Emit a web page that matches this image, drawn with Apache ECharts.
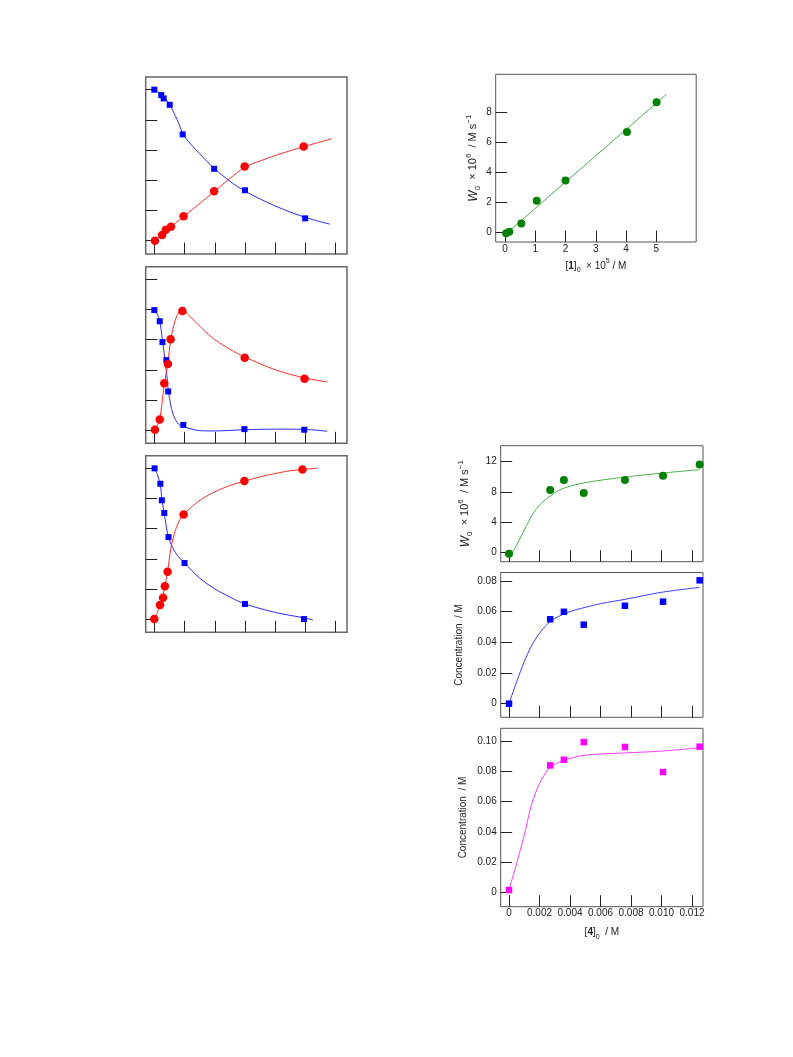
<!DOCTYPE html>
<html><head><meta charset="utf-8">
<script src="https://cdn.jsdelivr.net/npm/echarts@6/dist/echarts.min.js"></script>
<style>html,body{margin:0;padding:0;background:#fff}#c{width:793px;height:1057px}</style>
</head><body><div id="c"></div><script>
// ---------- Left panels (no tick labels) ----------
const L_xTicks = [0, 1, 2, 3, 4, 5, 6];
const L_yTicks = [0, 1, 2, 3, 4, 5];

// Panel L1
const L1_blueX = [0, 0.23, 0.31, 0.51, 0.94, 1.98, 3.0, 4.99];
const L1_blueY = [5.0, 4.82, 4.71, 4.50, 3.52, 2.38, 1.67, 0.74];
const L1_redX = [0.02, 0.26, 0.38, 0.55, 0.97, 1.98, 2.99, 4.94];
const L1_redY = [0, 0.19, 0.36, 0.46, 0.81, 1.64, 2.46, 3.12];
const L1_blueFitX = [0, 0.25, 0.5, 0.75, 1, 1.5, 2, 2.5, 3, 4, 5, 5.8];
const L1_blueFitY = [5.0, 4.83, 4.52, 4.02, 3.45, 2.88, 2.38, 1.97, 1.64, 1.15, 0.77, 0.55];
const L1_redFitX = [0, 0.25, 0.5, 1, 1.5, 2, 2.5, 3, 3.5, 4, 4.5, 5, 5.88];
const L1_redFitY = [0, 0.2, 0.42, 0.82, 1.23, 1.64, 2.06, 2.44, 2.64, 2.82, 2.98, 3.13, 3.38];

// Panel L2
const L2_blueX = [0, 0.18, 0.27, 0.40, 0.46, 0.96, 2.98, 4.96];
const L2_blueY = [3.98, 3.61, 2.92, 2.32, 1.28, 0.17, 0.03, 0.01];
const L2_redX = [0.02, 0.18, 0.33, 0.45, 0.54, 0.93, 2.99, 4.97];
const L2_redY = [0.01, 0.35, 1.55, 2.19, 3.01, 3.95, 2.40, 1.70];
const L2_blueFitX = [0, 0.1, 0.18, 0.25, 0.3, 0.4, 0.46, 0.55, 0.65, 0.8, 1.0, 1.5, 2, 3, 4, 5, 5.72];
const L2_blueFitY = [3.98, 3.85, 3.6, 3.15, 2.75, 1.95, 1.35, 0.8, 0.45, 0.2, 0.1, -0.02, -0.03, 0.01, 0.03, 0.02, -0.04];
const L2_redFitX = [0, 0.1, 0.18, 0.25, 0.33, 0.45, 0.54, 0.65, 0.75, 0.85, 0.95, 1.1, 1.3, 1.6, 2, 2.5, 3, 4, 5, 5.72];
const L2_redFitY = [0, 0.15, 0.38, 0.85, 1.5, 2.25, 2.95, 3.5, 3.8, 3.95, 3.97, 3.85, 3.65, 3.35, 3.0, 2.68, 2.42, 2.0, 1.72, 1.6];

// Panel L3
const L3_blueX = [0.01, 0.20, 0.25, 0.33, 0.47, 1.0, 3.0, 4.95];
const L3_blueY = [5.0, 4.49, 3.94, 3.52, 2.72, 1.86, 0.50, 0.0];
const L3_redX = [0, 0.19, 0.29, 0.35, 0.44, 0.97, 2.98, 4.9];
const L3_redY = [0, 0.47, 0.71, 1.09, 1.57, 3.47, 4.58, 4.96];
const L3_blueFitX = [0, 0.1, 0.2, 0.25, 0.33, 0.47, 0.7, 1.0, 1.5, 2, 2.5, 3, 4, 5, 5.25];
const L3_blueFitY = [5.02, 4.8, 4.45, 4.0, 3.5, 2.72, 2.2, 1.86, 1.36, 1.0, 0.73, 0.5, 0.22, 0.03, -0.03];
const L3_redFitX = [0, 0.1, 0.19, 0.3, 0.44, 0.55, 0.7, 0.85, 1.0, 1.3, 1.6, 2, 2.5, 3, 3.5, 4, 4.5, 5, 5.41];
const L3_redFitY = [0, 0.22, 0.47, 0.85, 1.57, 2.35, 2.95, 3.3, 3.5, 3.78, 4.0, 4.22, 4.43, 4.58, 4.72, 4.83, 4.92, 4.97, 5.01];

// ---------- Top-right panel ----------
const TR_xTicks = [0, 1, 2, 3, 4, 5];
const TR_xLabels = ['0', '1', '2', '3', '4', '5'];
const TR_yTicks = [0, 2, 4, 6, 8];
const TR_yLabels = ['0', '2', '4', '6', '8'];
const TR_x = [0.04, 0.14, 0.54, 1.05, 2.0, 4.03, 5.01];
const TR_y = [-0.07, 0.04, 0.58, 2.1, 3.44, 6.67, 8.65];
const TR_fitX = [0.02, 5.34];
const TR_fitY = [-0.12, 9.18];

// ---------- Bottom-right panels ----------
const BR_xTicks = [0, 0.002, 0.004, 0.006, 0.008, 0.010, 0.012];
const BR_xLabels = ['0', '0.002', '0.004', '0.006', '0.008', '0.010', '0.012'];
const BR_x = [0, 0.0027, 0.0036, 0.0049, 0.0076, 0.0101, 0.0125];

const R1_yTicks = [0, 4, 8, 12];
const R1_yLabels = ['0', '4', '8', '12'];
const R1_w0 = [-0.13, 8.25, 9.56, 7.85, 9.56, 10.09, 11.58];
const R1_fitX = [0.00015, 0.0005, 0.00116, 0.0018, 0.00247, 0.0035, 0.005, 0.0075, 0.01, 0.0125];
const R1_fitY = [-0.2, 1.0, 3.6, 5.8, 7.1, 8.4, 9.2, 9.9, 10.45, 10.9];

const R2_yTicks = [0, 0.02, 0.04, 0.06, 0.08];
const R2_yLabels = ['0', '0.02', '0.04', '0.06', '0.08'];
const R2_conc = [0, 0.055, 0.0599, 0.0515, 0.0638, 0.0665, 0.0804];
const R2_fitX = [0, 0.0005, 0.001, 0.0015, 0.002, 0.0025, 0.003, 0.004, 0.005, 0.006, 0.0076, 0.01, 0.0125];
const R2_fitY = [0, 0.0143, 0.0274, 0.0382, 0.0459, 0.0517, 0.0556, 0.06, 0.0628, 0.0652, 0.068, 0.0726, 0.0758];

const R3_yTicks = [0, 0.02, 0.04, 0.06, 0.08, 0.10];
const R3_yLabels = ['0', '0.02', '0.04', '0.06', '0.08', '0.10'];
const R3_conc = [0.0018, 0.0838, 0.0875, 0.0991, 0.0959, 0.0794, 0.0961];
const R3_fitX = [0, 0.0005, 0.001, 0.0015, 0.002, 0.0025, 0.00275, 0.0035, 0.005, 0.0076, 0.01, 0.0125];
const R3_fitY = [0.002, 0.0193, 0.038, 0.0588, 0.072, 0.0803, 0.083, 0.0868, 0.0905, 0.092, 0.0932, 0.0954];

// ---------- build ----------
const FONT = '"Liberation Sans", Arial, sans-serif';
const TXT = '#222';
const pairs = (xs, ys) => xs.map((x, i) => [x, ys[i]]);
const fmt = (ticks, labels) => (v) => { const i = ticks.findIndex(t => Math.abs(t - v) < 1e-9); return i >= 0 ? labels[i] : ''; };

const rich = {
  n: { fontSize: 10, fontFamily: FONT, color: TXT, lineHeight: 16 },
  w: { fontSize: 11, fontFamily: FONT, color: TXT, lineHeight: 17 },
  i: { fontSize: 12, fontFamily: FONT, color: TXT, fontStyle: 'italic', lineHeight: 17 },
  b: { fontSize: 10, fontFamily: FONT, color: TXT, fontWeight: 'bold', lineHeight: 16 },
  sup: { fontSize: 7, fontFamily: FONT, color: TXT, verticalAlign: 'top', lineHeight: 8 },
  sub: { fontSize: 7, fontFamily: FONT, color: TXT, verticalAlign: 'bottom', lineHeight: 8 },
  wsup: { fontSize: 8, fontFamily: FONT, color: TXT, verticalAlign: 'top', lineHeight: 9 },
  wsub: { fontSize: 8, fontFamily: FONT, color: TXT, verticalAlign: 'bottom', lineHeight: 9 }
};

const grids = [
  { left: 145.7, top: 77, width: 201.3, height: 177 },
  { left: 145.7, top: 266.7, width: 201.3, height: 176.6 },
  { left: 145.7, top: 455.7, width: 201.3, height: 176.6 },
  { left: 495.7, top: 74.3, width: 200.5, height: 167.7 },
  { left: 500.7, top: 445.7, width: 202.3, height: 116 },
  { left: 500.7, top: 572.5, width: 202.3, height: 144.8 },
  { left: 500.7, top: 728.3, width: 202.3, height: 178.4 }
].map((g, i) => Object.assign({ show: true, borderColor: i < 3 ? '#666' : '#555', borderWidth: i < 3 ? 1.5 : 1, backgroundColor: 'transparent', containLabel: false }, g));

function axis(gi, dim, min, max, ticks, labels, extra) {
  const a = {
    type: 'value', gridIndex: gi, min: min, max: max,
    position: dim === 'x' ? 'bottom' : 'left',
    axisLine: { show: false, onZero: false },
    splitLine: { show: false },
    axisTick: { show: true, inside: true, length: 11.5, customValues: ticks, lineStyle: { color: '#222', width: 1 } },
    axisLabel: labels ? { show: true, customValues: ticks, formatter: fmt(ticks, labels), fontFamily: FONT, fontSize: 10, color: TXT, margin: dim === 'x' ? 2 : 4 } : { show: false }
  };
  return Object.assign(a, extra || {});
}

const LXmin = -0.284, LXmax = 6.374, LYmin = -0.44, LYmax = 5.42;
const BRxMin = -0.000544, BRxMax = 0.01272;

const xAxes = [
  axis(0, 'x', LXmin, LXmax, L_xTicks, null),
  axis(1, 'x', LXmin, LXmax, L_xTicks, null),
  axis(2, 'x', LXmin, LXmax, L_xTicks, null),
  axis(3, 'x', -0.307, 6.32, TR_xTicks, TR_xLabels, {
    name: '{n|[}{b|1}{n|]}{sub|0}{n|  × 10}{sup|5}{n| / M}', nameLocation: 'middle', nameGap: 16,
    nameTextStyle: { rich: rich }
  }),
  axis(4, 'x', BRxMin, BRxMax, BR_xTicks, null),
  axis(5, 'x', BRxMin, BRxMax, BR_xTicks, null),
  axis(6, 'x', BRxMin, BRxMax, BR_xTicks, BR_xLabels, {
    name: '{n|[}{b|4}{n|]}{sub|0}{n|  / M}', nameLocation: 'middle', nameGap: 18,
    nameTextStyle: { rich: rich }
  })
];

const wName = '{i|W}{wsub|0}{w|  × 10}{wsup|6}{w|  / M s}{wsup|−1}';
const yAxes = [
  axis(0, 'y', LYmin, LYmax, L_yTicks, null),
  axis(1, 'y', LYmin, LYmax, L_yTicks, null),
  axis(2, 'y', LYmin, LYmax, L_yTicks, null),
  axis(3, 'y', -0.645, 10.51, TR_yTicks, TR_yLabels, {
    name: wName, nameLocation: 'middle', nameGap: 14, nameRotate: 90, nameTextStyle: { rich: rich }
  }),
  axis(4, 'y', -1.18, 14.05, R1_yTicks, R1_yLabels, {
    name: wName, nameLocation: 'middle', nameGap: 27, nameRotate: 90, nameTextStyle: { rich: rich }
  }),
  axis(5, 'y', -0.00886, 0.0855, R2_yTicks, R2_yLabels, {
    name: '{n|Concentration  / M}', nameLocation: 'middle', nameGap: 33, nameRotate: 90, nameTextStyle: { rich: rich }
  }),
  axis(6, 'y', -0.0092, 0.1082, R3_yTicks, R3_yLabels, {
    name: '{n|Concentration  / M}', nameLocation: 'middle', nameGap: 29, nameRotate: 90, nameTextStyle: { rich: rich }
  })
];

function fit(gi, xs, ys, color, smooth) {
  return { type: 'line', xAxisIndex: gi, yAxisIndex: gi, data: pairs(xs, ys), smooth: smooth === false ? false : 0.3,
    symbol: 'none', showSymbol: false, silent: true, z: 2,
    lineStyle: { color: color, width: 1 } };
}
function pts(gi, xs, ys, color, shape, size) {
  return { type: 'scatter', xAxisIndex: gi, yAxisIndex: gi, data: pairs(xs, ys), symbol: shape, symbolSize: size,
    itemStyle: { color: color, opacity: 1 }, z: 3, silent: true };
}

const RED = '#ff0000', BLUE = '#0000ff', GREEN = '#008000', MAG = '#ff00ff';
const series = [
  fit(0, L1_blueFitX, L1_blueFitY, '#2a2aff'), fit(0, L1_redFitX, L1_redFitY, '#ff2a2a'),
  pts(0, L1_blueX, L1_blueY, BLUE, 'rect', 6), pts(0, L1_redX, L1_redY, RED, 'circle', 8.5),
  fit(1, L2_blueFitX, L2_blueFitY, '#2a2aff'), fit(1, L2_redFitX, L2_redFitY, '#ff2a2a'),
  pts(1, L2_blueX, L2_blueY, BLUE, 'rect', 6), pts(1, L2_redX, L2_redY, RED, 'circle', 8.5),
  fit(2, L3_blueFitX, L3_blueFitY, '#2a2aff'), fit(2, L3_redFitX, L3_redFitY, '#ff2a2a'),
  pts(2, L3_blueX, L3_blueY, BLUE, 'rect', 6), pts(2, L3_redX, L3_redY, RED, 'circle', 8.5),
  fit(3, TR_fitX, TR_fitY, '#4caf4c', false), pts(3, TR_x, TR_y, GREEN, 'circle', 8),
  fit(4, R1_fitX, R1_fitY, '#4caf4c'), pts(4, BR_x, R1_w0, GREEN, 'circle', 8),
  fit(5, R2_fitX, R2_fitY, '#3b3bff'), pts(5, BR_x, R2_conc, BLUE, 'rect', 6.5),
  fit(6, R3_fitX, R3_fitY, '#ff3bff'), pts(6, BR_x, R3_conc, MAG, 'rect', 6.5)
];

const chart = echarts.init(document.getElementById('c'), null, { renderer: 'canvas' });
chart.setOption({
  animation: false,
  backgroundColor: '#fff',
  textStyle: { fontFamily: FONT },
  grid: grids, xAxis: xAxes, yAxis: yAxes, series: series
});
</script></body></html>
